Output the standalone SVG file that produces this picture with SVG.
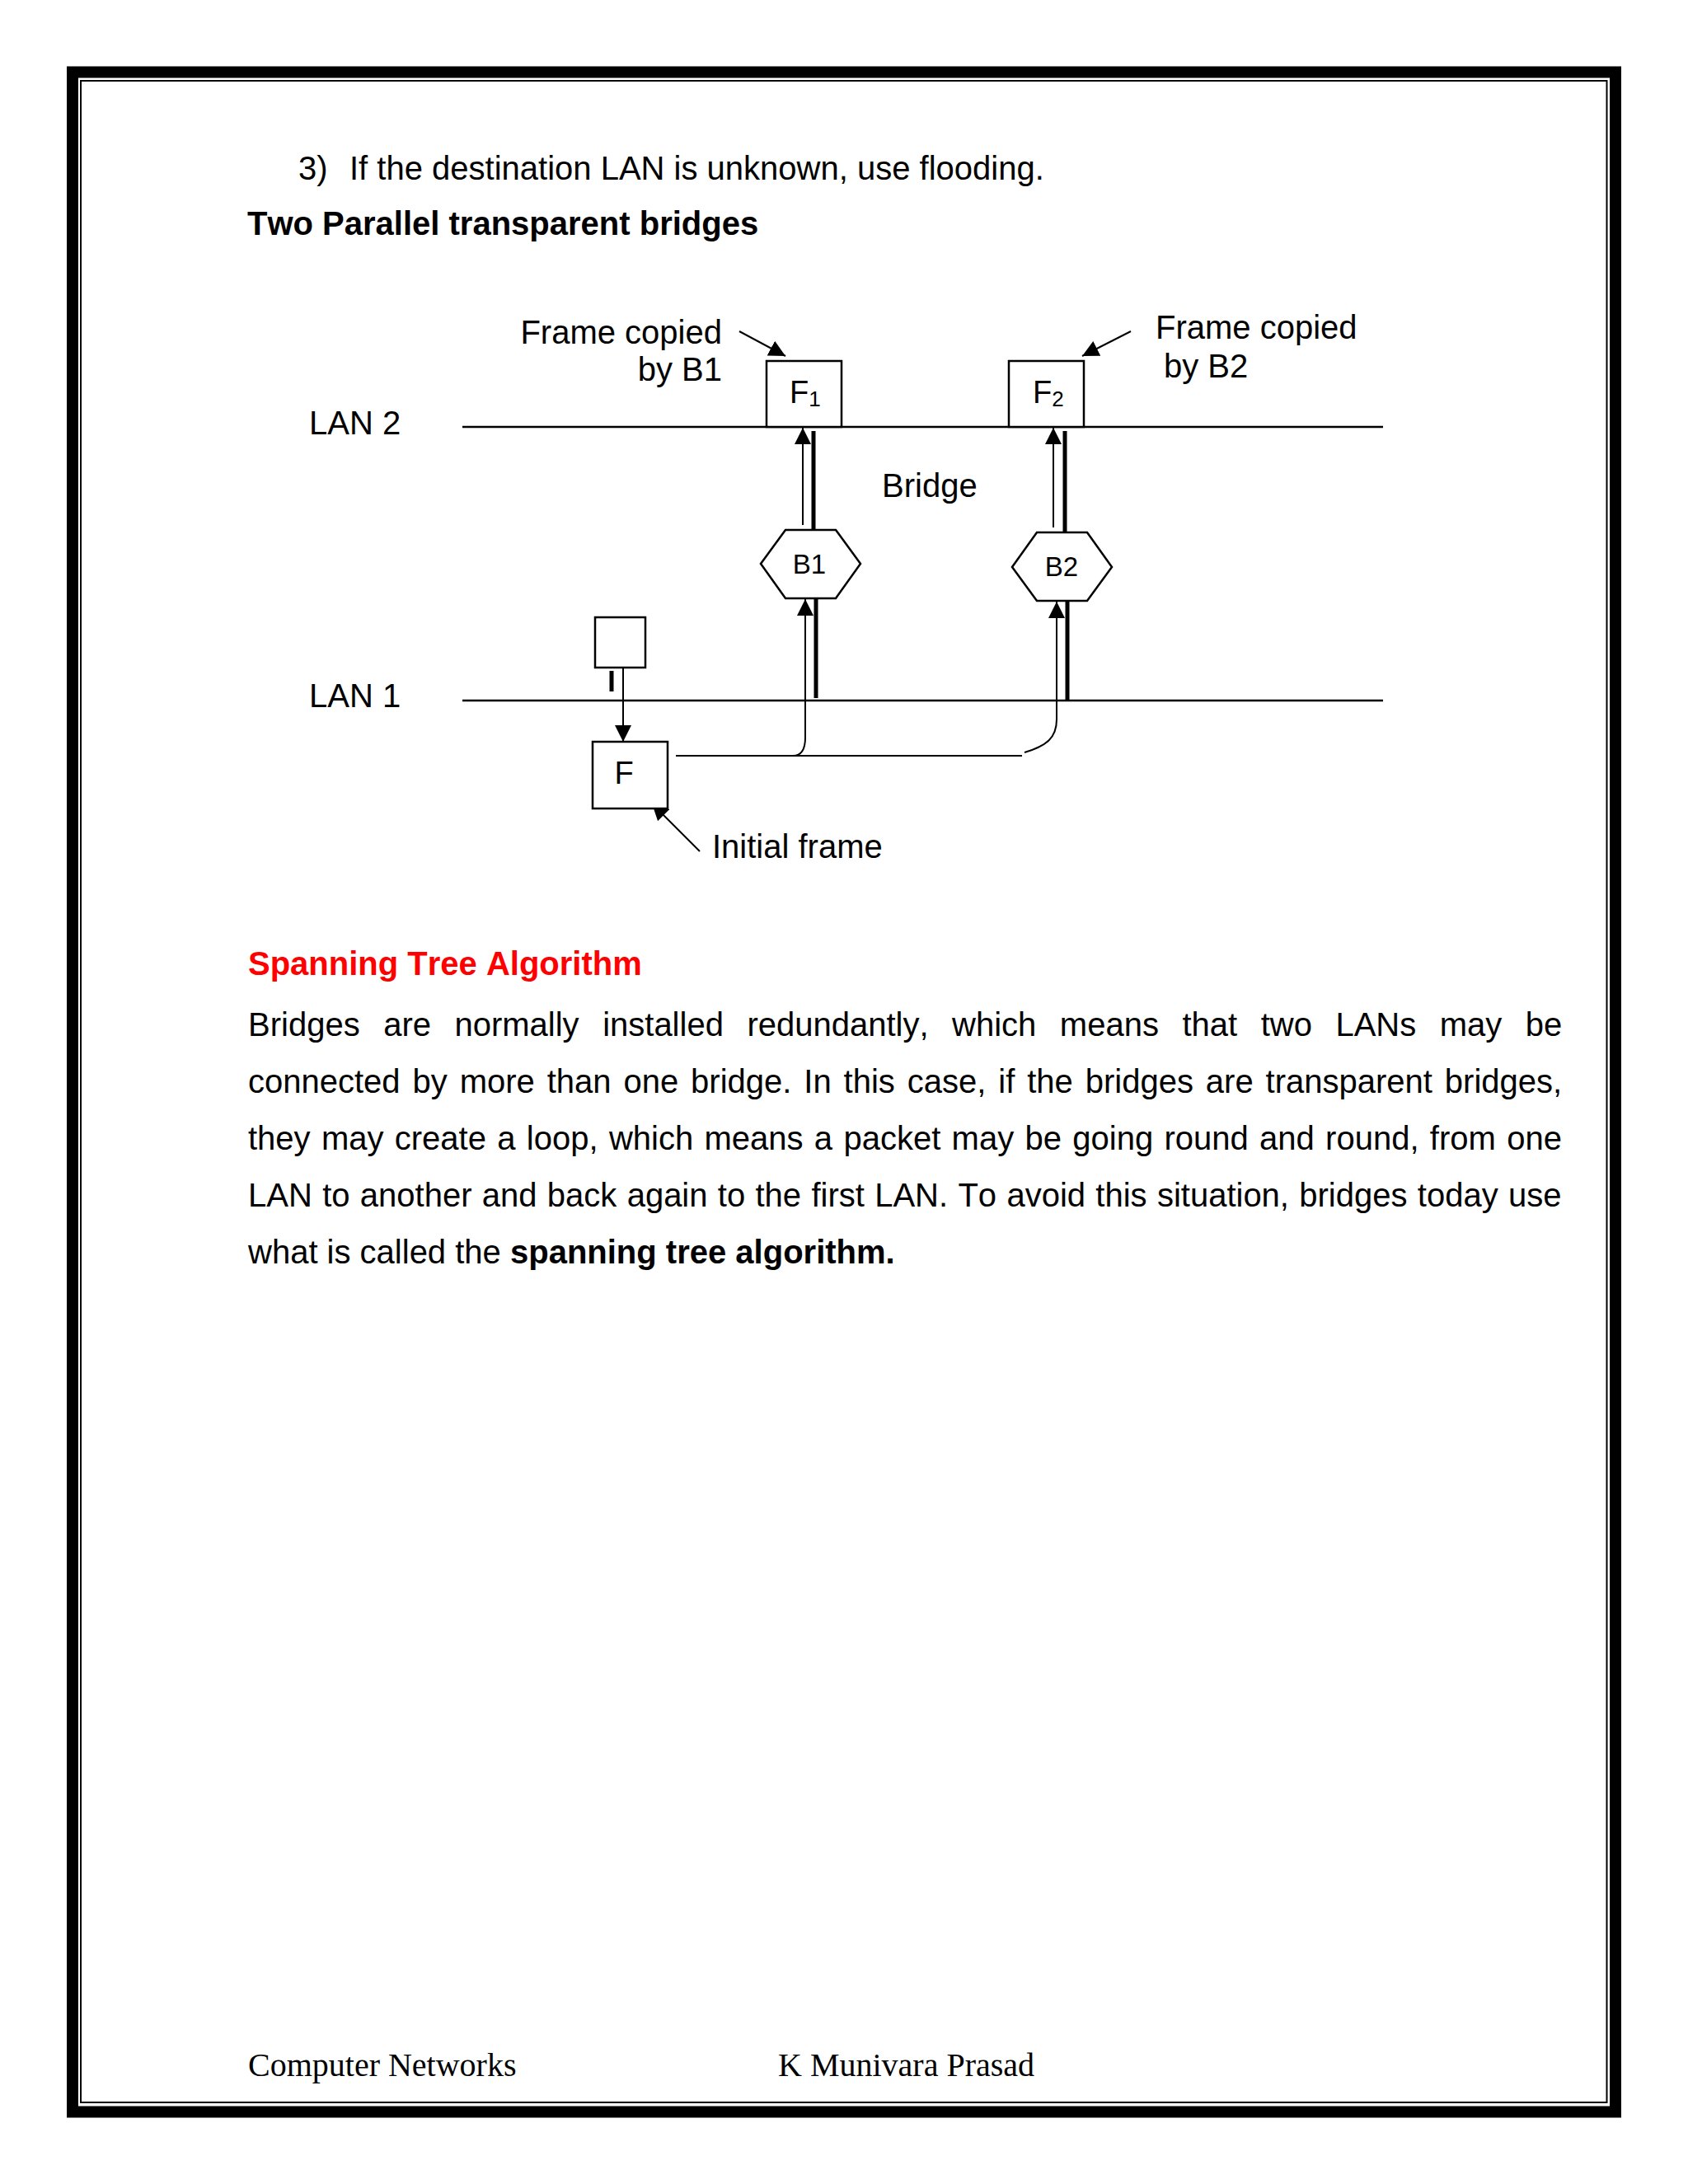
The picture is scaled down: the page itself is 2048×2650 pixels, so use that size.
<svg xmlns="http://www.w3.org/2000/svg" width="2048" height="2650" viewBox="0 0 2048 2650">
<style>
text{font-kerning:none}
.t{font-family:"Liberation Sans",Arial,sans-serif;font-size:40px;fill:#000}
.b{font-weight:bold}
.red{fill:#FF0000}
.ft{font-family:"Liberation Serif","Times New Roman",serif;font-size:40px;fill:#000}
.ln{stroke:#000;stroke-width:2.5;fill:none}
.thin{stroke:#000;stroke-width:2;fill:none}
.thick{stroke:#000;stroke-width:5;fill:none}
.box{stroke:#000;stroke-width:2.5;fill:#fff}
</style>
<defs>
<marker id="ah" viewBox="0 0 10 10" refX="10" refY="5" markerWidth="20" markerHeight="20" markerUnits="userSpaceOnUse" orient="auto">
<path d="M0,0 L10,5 L0,10 z" fill="#000"/>
</marker>
</defs>
<rect width="2048" height="2650" fill="#fff"/>
<g id="page-border">
<rect x="88" y="87.5" width="1872" height="2475" fill="none" stroke="#000" stroke-width="14"/>
<rect x="98" y="98" width="1851.5" height="2453" fill="none" stroke="#000" stroke-width="2"/>
</g>
<g id="text-top">
<text class="t" x="362" y="218">3)</text>
<text class="t" x="424" y="218">If the destination LAN is unknown, use flooding.</text>
<text class="t b" x="300" y="285">Two Parallel transparent bridges</text>
</g>
<g id="connectors">
<line class="ln" x1="561" y1="518" x2="1678" y2="518"/>
<line class="ln" x1="561" y1="850" x2="1678" y2="850"/>
<line class="thin" x1="974" y1="637" x2="974" y2="519" marker-end="url(#ah)"/>
<line class="thick" x1="987" y1="523" x2="987" y2="643"/>
<path class="thin" d="M820,917 L962,917 Q977,917 977,895 L977,727" marker-end="url(#ah)"/>
<line class="thick" x1="990" y1="727" x2="990" y2="847"/>
<line class="thin" x1="1278" y1="640" x2="1278" y2="519" marker-end="url(#ah)"/>
<line class="thick" x1="1292" y1="523" x2="1292" y2="646"/>
<line class="thin" x1="962" y1="917" x2="1240" y2="917"/>
<path class="thin" d="M1243,913 C1270,905 1282,895 1282,873 L1282,730" marker-end="url(#ah)"/>
<line class="thick" x1="1295" y1="730" x2="1295" y2="850"/>
<line class="thin" x1="756" y1="811" x2="756" y2="900" marker-end="url(#ah)"/>
<line class="thick" x1="742" y1="814" x2="742" y2="839"/>
<line class="thin" x1="897" y1="402" x2="953" y2="432" marker-end="url(#ah)"/>
<line class="thin" x1="1372" y1="402" x2="1313" y2="432" marker-end="url(#ah)"/>
<line class="thin" x1="849" y1="1033" x2="791" y2="975" marker-end="url(#ah)"/>
</g>
<g id="lan2-label"><text class="t" x="375" y="527">LAN 2</text></g>
<g id="lan1-label"><text class="t" x="375" y="858">LAN 1</text></g>
<g id="frame-f1">
<rect class="box" x="930" y="438" width="91" height="80"/>
<text class="t" x="958" y="489" style="font-size:38px">F<tspan style="font-size:26px" dy="4">1</tspan></text>
</g>
<g id="frame-f2">
<rect class="box" x="1224" y="438" width="91" height="80"/>
<text class="t" x="1253" y="489" style="font-size:38px">F<tspan style="font-size:26px" dy="4">2</tspan></text>
</g>
<g id="label-b1"><text class="t" x="876" y="417" text-anchor="end">Frame copied</text><text class="t" x="876" y="462" text-anchor="end">by B1</text></g>
<g id="label-b2"><text class="t" x="1402" y="411">Frame copied</text><text class="t" x="1412" y="458">by B2</text></g>
<g id="label-bridge"><text class="t" x="1070" y="603">Bridge</text></g>
<g id="bridge-b1">
<polygon class="box" points="923,684 953,643 1014,643 1044,684 1014,726 953,726"/>
<text class="t" x="982" y="696" text-anchor="middle" style="font-size:33px">B1</text>
</g>
<g id="bridge-b2">
<polygon class="box" points="1228,688 1258,646 1319,646 1349,688 1319,729 1258,729"/>
<text class="t" x="1288" y="699" text-anchor="middle" style="font-size:33px">B2</text>
</g>
<g id="station"><rect class="box" x="722" y="749" width="61" height="61"/></g>
<g id="frame-f">
<rect class="box" x="719" y="900" width="91" height="81"/>
<text class="t" x="757" y="951" text-anchor="middle" style="font-size:38px">F</text>
</g>
<g id="label-initial"><text class="t" x="864" y="1041">Initial frame</text></g>
<g id="text-bottom">
<text class="t b red" x="301" y="1183">Spanning Tree Algorithm</text>
<text class="t" x="301" y="1257" style="word-spacing:17.4px">Bridges are normally installed redundantly, which means that two LANs may be</text>
<text class="t" x="301" y="1326" style="word-spacing:3.8px">connected by more than one bridge. In this case, if the bridges are transparent bridges,</text>
<text class="t" x="301" y="1395" style="word-spacing:2.2px">they may create a loop, which means a packet may be going round and round, from one</text>
<text class="t" x="301" y="1464" style="word-spacing:1.2px">LAN to another and back again to the first LAN. To avoid this situation, bridges today use</text>
<text class="t" x="301" y="1533">what is called the <tspan class="b">spanning tree algorithm.</tspan></text>
</g>
<g id="footer">
<text class="ft" x="301" y="2519">Computer Networks</text>
<text class="ft" x="944" y="2519">K Munivara Prasad</text>
</g>
</svg>
